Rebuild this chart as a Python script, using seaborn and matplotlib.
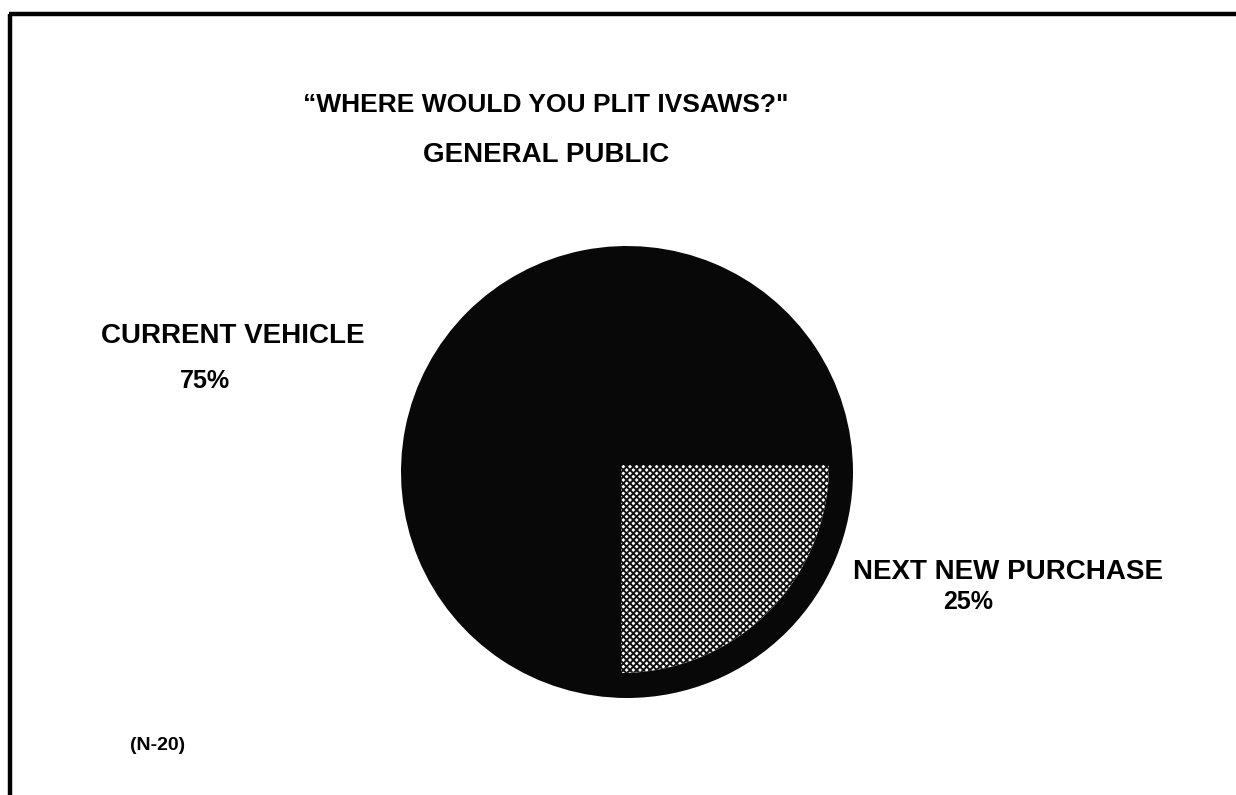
import seaborn as sns
import matplotlib.pyplot as plt

sns.set_theme(style="white")
plt.rcParams['font.family'] = ['Liberation Sans', 'DejaVu Sans']
plt.rcParams['text.color'] = 'black'
plt.rcParams['hatch.linewidth'] = 1.4

# data
labels = ["CURRENT VEHICLE", "NEXT NEW PURCHASE"]
shares = [75, 25]
title_lines = ['“WHERE WOULD YOU PLIT IVSAWS?"', "GENERAL PUBLIC"]
sample_note = "(N-20)"

W, H = 1236, 795
fig = plt.figure(figsize=(W / 100, H / 100), dpi=100)
ax = fig.add_axes([0, 0, 1, 1])

dark = "#080808"
# shadow disk behind the pie
ax.pie(shares, colors=[dark, dark], radius=226, center=(627, H - 472),
       startangle=-90, counterclock=False,
       wedgeprops=dict(linewidth=0))
# actual pie, light slice drawn smaller on top
wedges, _ = ax.pie(shares, colors=[dark, "white"], radius=208, center=(621, H - 465),
                   startangle=-90, counterclock=False,
                   wedgeprops=dict(linewidth=0))
wedges[1].set_hatch("xxxxx")
wedges[1].set_edgecolor("#111111")

ax.set_xlim(0, W)
ax.set_ylim(0, H)
ax.set_aspect("auto")
ax.axis("off")

# frame lines (top and left only)
ax.plot([9, W], [H - 14, H - 14], color="black", lw=3.2, solid_capstyle="butt")
ax.plot([9.5, 9.5], [0, H - 14], color="black", lw=3.2, solid_capstyle="butt")

# titles
ax.text(546, H - 105, title_lines[0], ha="center", va="center",
        fontsize=19, fontweight="bold")
ax.text(546, H - 155, title_lines[1], ha="center", va="center",
        fontsize=20, fontweight="bold")

# slice labels
ax.text(233, H - 336, labels[0], ha="center", va="center", fontsize=20, fontweight="bold")
ax.text(205, H - 381, f"{shares[0]}%", ha="center", va="center", fontsize=18, fontweight="bold")
ax.text(1008, H - 572, labels[1], ha="center", va="center", fontsize=20, fontweight="bold")
ax.text(968, H - 602, f"{shares[1]}%", ha="center", va="center", fontsize=18, fontweight="bold")

ax.text(158, H - 745, sample_note, ha="center", va="center", fontsize=14, fontweight="bold")

fig.savefig("out.png", dpi=100, facecolor="white")
